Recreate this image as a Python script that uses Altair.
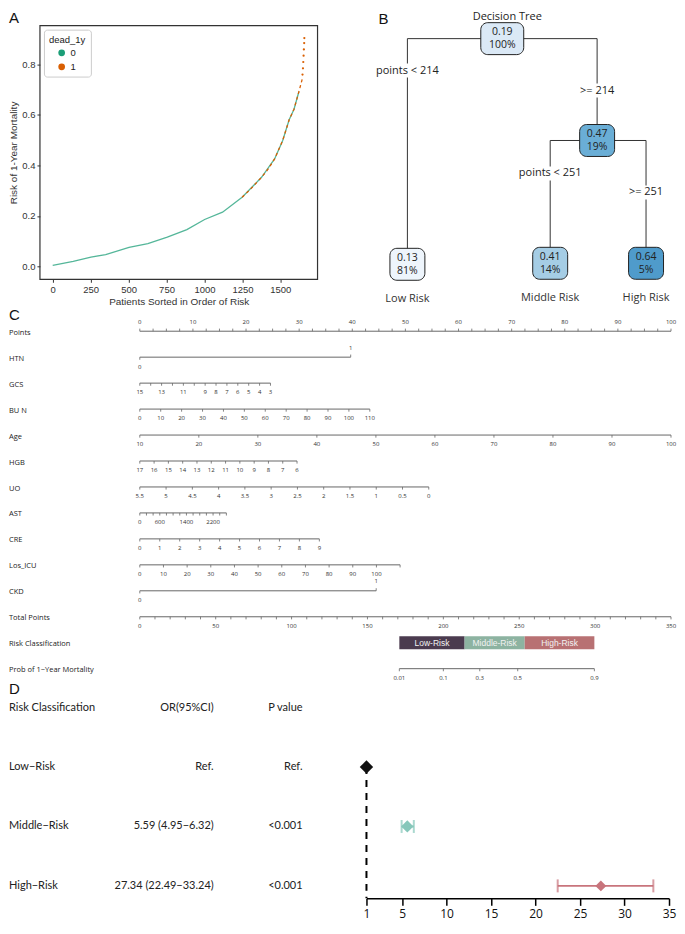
import altair as alt
import pandas as pd

FA = "Liberation Sans"
FO = "Open Sans"
FL = "Lato"

# ================= DATA =================
# Panel A: predicted risk, patients sorted by risk
rank_dead0 = [0, 135, 252, 349, 503, 627, 755, 884, 1001, 1119, 1248, 1376, 1462, 1515, 1558, 1590, 1622]
risk_dead0 = [0.004, 0.020, 0.037, 0.047, 0.075, 0.090, 0.116, 0.146, 0.186, 0.215, 0.274, 0.353, 0.426, 0.498, 0.581, 0.623, 0.692]
rank_dead1 = [1248, 1300, 1376, 1420, 1462, 1515, 1558, 1590, 1622, 1644]
risk_dead1 = [0.274, 0.304, 0.353, 0.386, 0.426, 0.498, 0.581, 0.623, 0.692, 0.742]
rank_top = [1646, 1649, 1651, 1653, 1655, 1657, 1658]
risk_top = [0.76, 0.785, 0.81, 0.835, 0.86, 0.885, 0.905]
x_ticks_A = [0, 250, 500, 750, 1000, 1250, 1500]
y_ticks_A = [0.0, 0.2, 0.4, 0.6, 0.8]

# Panel B: decision tree (layout position of each node, tree units)
node_id = ["root", "low", "mid", "midleaf", "high"]
node_parent = ["", "root", "root", "mid", "mid"]
node_xpos = [156, 61, 251, 204, 300]
node_ypos = [28, 254, 130, 253, 253]
node_yval = [0.19, 0.13, 0.47, 0.41, 0.64]
node_pct = ["100%", "81%", "19%", "14%", "5%"]
split_text = ["", "points < 214", ">= 214", "points < 251", ">= 251"]
split_ypos = [0, 60, 80, 163, 182]
leaf_name = ["", "Low Risk", "", "Middle Risk", "High Risk"]

# Panel C: nomogram
row_labels = ["Points", "HTN", "GCS", "BU N", "Age", "HGB", "UO", "AST", "CRE",
              "Los_ICU", "CKD", "Total Points", "Risk Classification", "Prob of 1\u2212Year Mortality"]
points_minor = [i * 2.5 for i in range(41)]
points_major = list(range(0, 101, 10))
htn_vals, htn_pts = [0, 1], [0, 39.7]
gcs_vals, gcs_end, gcs_lab = list(range(15, 2, -1)), 24.6, [15, 13, 11, 9, 8, 7, 6, 5, 4, 3]
bun_vals, bun_end = list(range(0, 111, 10)), 43.3
age_vals, age_end = list(range(10, 101, 10)), 100.0
hgb_vals, hgb_end = list(range(17, 5, -1)), 29.6
uo_vals, uo_end = [5.5, 5, 4.5, 4, 3.5, 3, 2.5, 2, 1.5, 1, 0.5, 0], 54.4
ast_vals, ast_end, ast_lab = list(range(0, 2601, 200)), 16.3, [0, 600, 1400, 2200]
cre_vals, cre_end = list(range(0, 10)), 33.8
los_vals, los_end, los_lab = list(range(0, 111, 10)), 49.0, list(range(0, 101, 10))
ckd_vals, ckd_pts = [0, 1], [0, 44.5]
total_vals, total_lab, total_max = list(range(0, 351, 10)), list(range(0, 351, 50)), 350
prob_vals = [0.01, 0.1, 0.3, 0.5, 0.9]
prob_total = [171, 200, 224, 249, 299.5]
risk_names = ["Low-Risk", "Middle-Risk", "High-Risk"]
risk_cut = [171, 214, 253.6, 299.5]

# Panel D: forest plot
d_names = ["Low\u2212Risk", "Middle\u2212Risk", "High\u2212Risk"]
d_or_txt = ["Ref.", "5.59 (4.95\u22126.32)", "27.34 (22.49\u221233.24)"]
d_p_txt = ["Ref.", "<0.001", "<0.001"]
d_or = [1.0, 5.59, 27.34]
d_lo = [None, 4.95, 22.49]
d_hi = [None, 6.32, 33.24]
d_ticks = [1, 5, 10, 15, 20, 25, 30, 35]

LEFT = -31  # panels C and D share the left edge reserved by panel A's y axis

# ================= PANEL A =================
A_W, A_TOP, A_FH = 278, 15, 254
A_H = A_TOP + A_FH
a0 = pd.DataFrame({"rank": rank_dead0, "risk": risk_dead0, "dead_1y": "0"})
a1 = pd.DataFrame({"rank": rank_dead1, "risk": risk_dead1, "dead_1y": "1"})
a2 = pd.DataFrame({"rank": rank_top, "risk": risk_top, "dead_1y": "1"})

ax_style = dict(grid=False, domain=False, ticks=True, tickSize=3, tickColor="#333", tickWidth=1,
                labelFont=FA, labelFontSize=9.5, labelColor="#333", labelPadding=2,
                titleFont=FA, titleFontSize=10, titleFontWeight="normal", titleColor="#333", titlePadding=3)
xA = alt.X("rank:Q", scale=alt.Scale(domain=[-84, 1745], nice=False, zero=False),
           axis=alt.Axis(values=x_ticks_A, format="d", title="Patients Sorted in Order of Risk", **ax_style))
yA = alt.Y("risk:Q", scale=alt.Scale(domain=[-0.051, 0.954], range=[A_H, A_TOP], nice=False, zero=False),
           axis=alt.Axis(values=y_ticks_A, format=".1f", title="Risk of 1-Year Mortality", **ax_style))
cA = alt.Scale(domain=["0", "1"], range=["#1b9e77", "#d95f02"])
legA = alt.Legend(title="dead_1y", orient="none", legendX=4, legendY=A_TOP + 4,
                  fillColor="white", strokeColor="#cccccc",
                  padding=5, cornerRadius=3, titleFont=FA, titleFontSize=9.5, titleFontWeight="normal",
                  titleColor="#222", labelFont=FA, labelFontSize=9.5, labelColor="#222",
                  symbolType="circle", symbolSize=45, symbolStrokeWidth=0, symbolOffset=8,
                  rowPadding=3, titlePadding=4)

ptsA = alt.Chart(a2).mark_circle(size=5, opacity=1).encode(
    x=xA, y=yA, color=alt.Color("dead_1y:N", scale=cA, legend=legA))
lineA0 = alt.Chart(a0).mark_line(strokeWidth=1.3, opacity=0.75).encode(
    x=xA, y=yA, color=alt.Color("dead_1y:N", scale=cA, legend=None))
lineA1 = alt.Chart(a1).mark_line(strokeWidth=1.3, strokeDash=[3, 3]).encode(
    x=xA, y=yA, color=alt.Color("dead_1y:N", scale=cA, legend=None))
one = pd.DataFrame({"t": ["A"]})
frameA = alt.Chart(one).mark_rect(fillOpacity=0, stroke="#333", strokeWidth=1.2).encode(
    x=alt.value(0), x2=alt.value(A_W), y=alt.value(A_TOP), y2=alt.value(A_H))
letterA = alt.Chart(one).mark_text(font=FA, fontSize=15, color="#111", align="left", baseline="top").encode(
    x=alt.value(LEFT), y=alt.value(0), text="t:N")

chartA = alt.layer(frameA, ptsA, lineA0, lineA1, letterA).properties(width=A_W, height=A_H)

# ================= PANEL B =================
B_W, B_H = 324, 298
nodes = pd.DataFrame({"id": node_id, "parent": node_parent, "x": node_xpos, "y": node_ypos,
                      "yval": node_yval, "pct": node_pct, "split": split_text, "ly": split_ypos,
                      "leaf": leaf_name})
par = nodes.set_index("id")
edges = nodes[nodes.parent != ""].copy()
edges["px"] = edges.parent.map(par.x)
edges["py"] = edges.parent.map(par.y)

sxB = alt.Scale(domain=[0, B_W], nice=False, zero=False)
syB = alt.Scale(domain=[0, B_H], reverse=True, nice=False, zero=False)

def XB(f):
    return alt.X(f, scale=sxB, axis=None)

def YB(f):
    return alt.Y(f, scale=syB, axis=None)

hEdge = alt.Chart(edges).mark_rule(color="#333", strokeWidth=1).encode(x=XB("px:Q"), x2="x:Q", y=YB("py:Q"))
vEdge = alt.Chart(edges).mark_rule(color="#333", strokeWidth=1).encode(x=XB("x:Q"), y=YB("py:Q"), y2="y:Q")
labBg = alt.Chart(edges).mark_rect(fill="white").transform_calculate(
    x1="datum.x - length(datum.split) * 3.3", x2b="datum.x + length(datum.split) * 3.3",
    y1="datum.ly - 7", y2b="datum.ly + 7").encode(x=XB("x1:Q"), x2="x2b:Q", y=YB("y1:Q"), y2="y2b:Q")
labTx = alt.Chart(edges).mark_text(font=FO, fontSize=11, color="#222").encode(
    x=XB("x:Q"), y=YB("ly:Q"), text="split:N")
boxes = alt.Chart(nodes).mark_rect(cornerRadius=7, stroke="#222", strokeWidth=1).transform_calculate(
    hw="length(datum.pct) > 3 ? 21.5 : 17.5", x1="datum.x - datum.hw", x2b="datum.x + datum.hw",
    y1="datum.y - 16", y2b="datum.y + 16").encode(
    x=XB("x1:Q"), x2="x2b:Q", y=YB("y1:Q"), y2="y2b:Q",
    color=alt.Color("yval:Q", legend=None,
                    scale=alt.Scale(domain=[0.13, 0.19, 0.41, 0.47, 0.64],
                                    range=["#eef5fc", "#dbe9f6", "#a5cde5", "#6aaed6", "#4f9bcb"])))
valTx = alt.Chart(nodes).mark_text(font=FO, fontSize=10.5, color="#222", dy=-6.5).encode(
    x=XB("x:Q"), y=YB("y:Q"), text=alt.Text("yval:Q", format=".2f"))
pctTx = alt.Chart(nodes).mark_text(font=FO, fontSize=10.5, color="#222", dy=6.5).encode(
    x=XB("x:Q"), y=YB("y:Q"), text="pct:N")
leafTx = alt.Chart(nodes).transform_filter("datum.leaf != ''").mark_text(
    font=FO, fontSize=11, color="#333", dy=35).encode(x=XB("x:Q"), y=YB("y:Q"), text="leaf:N")
annB = pd.DataFrame({"t": ["Decision Tree"], "x": [161], "y": [0]})
annB2 = pd.DataFrame({"t": ["B"], "x": [32], "y": [1]})
titleB = alt.Chart(annB).mark_text(font=FO, fontSize=11, color="#222", baseline="top").encode(
    x=XB("x:Q"), y=YB("y:Q"), text="t:N")
letterB = alt.Chart(annB2).mark_text(font=FA, fontSize=15, color="#111", baseline="top", align="left").encode(
    x=XB("x:Q"), y=YB("y:Q"), text="t:N")
chartB = alt.layer(hEdge, vEdge, labBg, labTx, boxes, valTx, pctTx, leafTx, titleB, letterB).properties(
    width=B_W, height=B_H)

# ================= PANEL C =================
C_W, C_H = 636, 373
ticks = []

def fmt(v):
    return f"{v:g}"

def add_lin(row, vals, end_pts, labelled=None, side=1):
    v0, v1 = vals[0], vals[-1]
    for v in vals:
        p = (v - v0) / (v1 - v0) * end_pts
        lab = fmt(v) if (labelled is None or v in labelled) else ""
        ticks.append(dict(row=row, pts=p, label=lab, side=side))

for v in points_minor:
    ticks.append(dict(row=0, pts=v, label=fmt(v) if v in points_major else "", side=-1))
for v, p in zip(htn_vals, htn_pts):
    ticks.append(dict(row=1, pts=p, label=fmt(v), side=1 if v == 0 else -1))
add_lin(2, gcs_vals, gcs_end, gcs_lab)
add_lin(3, bun_vals, bun_end)
add_lin(4, age_vals, age_end)
add_lin(5, hgb_vals, hgb_end)
add_lin(6, uo_vals, uo_end)
add_lin(7, ast_vals, ast_end, ast_lab)
add_lin(8, cre_vals, cre_end)
add_lin(9, los_vals, los_end, los_lab)
for v, p in zip(ckd_vals, ckd_pts):
    ticks.append(dict(row=10, pts=p, label=fmt(v), side=1 if v == 0 else -1))
for v in total_vals:
    ticks.append(dict(row=11, pts=v / total_max * 100, label=fmt(v) if v in total_lab else "", side=1))
for v, t in zip(prob_vals, prob_total):
    ticks.append(dict(row=13, pts=t / total_max * 100, label=fmt(v), side=1))
tdf = pd.DataFrame(ticks)
ldf = tdf.groupby("row").pts.agg(["min", "max"]).reset_index()
rdf = pd.DataFrame({"row": list(range(len(row_labels))), "name": row_labels})
risk_df = pd.DataFrame({"cls": risk_names, "lo": [c / total_max * 100 for c in risk_cut[:-1]],
                        "hi": [c / total_max * 100 for c in risk_cut[1:]], "row": 12})

sxC = alt.Scale(domain=[0, 100], range=[100, 632], nice=False, zero=False)
syC = alt.Scale(domain=[-0.885, 13.462], reverse=True, nice=False, zero=False)

def XC(f):
    return alt.X(f, scale=sxC, axis=None)

def YC(f):
    return alt.Y(f, scale=syC, axis=None)

cLines = alt.Chart(ldf).mark_rule(color="#666", strokeWidth=1).encode(x=XC("min:Q"), x2="max:Q", y=YC("row:Q"))
cTicks = alt.Chart(tdf).transform_calculate(ty="datum.row + datum.side * 0.1").mark_rule(
    color="#666", strokeWidth=0.8).encode(x=XC("pts:Q"), y=YC("row:Q"), y2="ty:Q")
cTickLab = alt.Chart(tdf).transform_filter("datum.label != ''").transform_calculate(
    ly="datum.row + datum.side * 0.36").mark_text(font=FO, fontSize=6, color="#333").encode(
    x=XC("pts:Q"), y=YC("ly:Q"), text="label:N")
cRowLab = alt.Chart(rdf).transform_calculate(ly="datum.row + 0.06").mark_text(
    font=FO, fontSize=7.5, color="#222", align="left").encode(x=alt.value(LEFT), y=YC("ly:Q"), text="name:N")
cRisk = alt.Chart(risk_df).transform_calculate(y1="datum.row - 0.25", y2b="datum.row + 0.25").mark_rect().encode(
    x=XC("lo:Q"), x2="hi:Q", y=YC("y1:Q"), y2="y2b:Q",
    color=alt.Color("cls:N", legend=None, scale=alt.Scale(domain=risk_names,
                                                           range=["#4b3b4f", "#8db3a1", "#b87173"])))
cRiskTx = alt.Chart(risk_df).transform_calculate(mid="(datum.lo + datum.hi) / 2").mark_text(
    font=FA, fontSize=8.5, color="#f2f2f2").encode(x=XC("mid:Q"), y=YC("row:Q"), text="cls:N")
cLetter = alt.Chart(pd.DataFrame({"t": ["C"]})).mark_text(
    font=FA, fontSize=15, color="#111", align="left", baseline="top").encode(
    x=alt.value(LEFT), y=alt.value(0), text="t:N")
chartC = alt.layer(cLines, cTicks, cTickLab, cRowLab, cRisk, cRiskTx, cLetter).properties(width=C_W, height=C_H)

# ================= PANEL D =================
D_W, D_H = 636, 217
fdf = pd.DataFrame({"name": d_names, "row": [1, 2, 3], "or": d_or, "lo": d_lo, "hi": d_hi})
tab = pd.DataFrame({"row": [0, 1, 2, 3],
                    "name": ["Risk Classification"] + d_names,
                    "ort": ["OR(95%CI)"] + d_or_txt,
                    "pt": ["P value"] + d_p_txt})
sxD = alt.Scale(domain=[1, 35], range=[327, 630], nice=False, zero=False)
syD = alt.Scale(domain=[-0.437, 3.210], reverse=True, nice=False, zero=False)
axD = alt.Axis(values=d_ticks, title=None, grid=False, domainColor="#000", domainWidth=1.5,
               tickColor="#000", tickWidth=1.5, tickSize=7, labelFont=FO, labelFontSize=12,
               labelColor="#111", labelPadding=3, labelFlush=False)
cD = alt.Scale(domain=d_names, range=["#111111", "#86c7ba", "#c8747c"])

def XD(f):
    return alt.X(f, scale=sxD, axis=axD)

def YD(f):
    return alt.Y(f, scale=syD, axis=None)

dDash = alt.Chart(fdf).transform_filter("datum.row == 1").mark_rule(
    color="#000", strokeWidth=2, strokeDash=[7, 6]).encode(x=XD("or:Q"), y=YD("row:Q"), y2=alt.value(D_H))
dBar = alt.Chart(fdf).transform_filter("isValid(datum.lo)").mark_rule(strokeWidth=2).encode(
    x=XD("lo:Q"), x2="hi:Q", y=YD("row:Q"), color=alt.Color("name:N", scale=cD, legend=None))
dCap = alt.Chart(fdf).transform_filter("isValid(datum.lo)").transform_fold(
    ["lo", "hi"], as_=["end", "val"]).mark_tick(orient="vertical", size=13, thickness=2).encode(
    x=XD("val:Q"), y=YD("row:Q"), color=alt.Color("name:N", scale=cD, legend=None))
dPt = alt.Chart(fdf).mark_point(shape="diamond", filled=True, opacity=1).encode(
    x=XD("or:Q"), y=YD("row:Q"), color=alt.Color("name:N", scale=cD, legend=None),
    size=alt.Size("name:N", scale=alt.Scale(domain=d_names, range=[180, 120, 140]), legend=None))
dT1 = alt.Chart(tab).mark_text(font=FL, fontSize=11, color="#222", align="left").encode(
    x=alt.value(LEFT), y=YD("row:Q"), text="name:N")
dT2 = alt.Chart(tab).mark_text(font=FL, fontSize=11, color="#222", align="right").encode(
    x=alt.value(174), y=YD("row:Q"), text="ort:N")
dT3 = alt.Chart(tab).mark_text(font=FL, fontSize=11, color="#222", align="right").encode(
    x=alt.value(263), y=YD("row:Q"), text="pt:N")
dLetter = alt.Chart(pd.DataFrame({"t": ["D"]})).mark_text(
    font=FA, fontSize=15, color="#111", align="left", baseline="top").encode(
    x=alt.value(LEFT), y=alt.value(0), text="t:N")
chartD = alt.layer(dDash, dBar, dCap, dPt, dT1, dT2, dT3, dLetter).properties(width=D_W, height=D_H)

# ================= COMPOSE =================
top = alt.hconcat(chartA, chartB, spacing=28).resolve_scale(color="independent")
chart = alt.vconcat(top, chartC, chartD, spacing=0).resolve_scale(
    color="independent", size="independent").properties(
    padding={"left": 0, "right": 0, "top": 2, "bottom": 3}).configure_view(stroke=None)

chart.save("out.html", embed_options={"renderer": "svg", "actions": False})
